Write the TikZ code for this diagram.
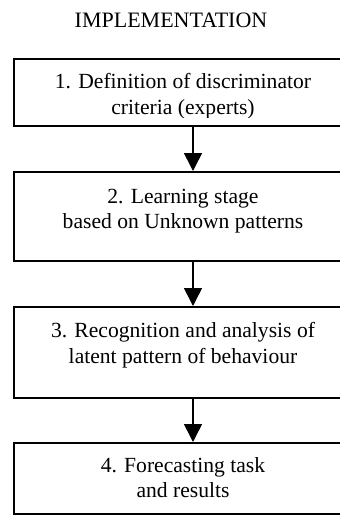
\documentclass[tikz,border=0pt]{standalone}
\usepackage{fontspec}
\setmainfont{Liberation Serif}
\usetikzlibrary{arrows.meta}
\tikzset{
  box/.style={draw=black, line width=1.6pt, minimum width=420pt, anchor=north west, inner sep=0pt, fill=white},
  txt/.style={anchor=base, inner sep=0pt, font=\rmfamily\fontsize{21.6}{25}\selectfont},
  ttl/.style={anchor=base, inner sep=0pt, font=\rmfamily\fontsize{22}{26}\selectfont},
  arr/.style={line width=1.6pt, -{Triangle[width=18pt,length=18pt]}}
}
\begin{document}
\begin{tikzpicture}[x=1pt,y=-1pt]
\useasboundingbox (0,0) rectangle (340,515);
\clip (0,0) rectangle (340,515);
\node[ttl] (title) at (171,27) {IMPLEMENTATION};
\node[box, minimum height=67pt] (b1) at (13,58) {};
\node[box, minimum height=89pt] (b2) at (13,171) {};
\node[box, minimum height=91pt] (b3) at (13,306) {};
\node[box, minimum height=71pt] (b4) at (13,442) {};
\coordinate (ax) at (193,0);
\begin{scope}
\clip (13,58) rectangle (340,117.5);
\node[txt] (t1a) at (183,88) {1. Definition of discriminator};
\node[txt] (t1b) at (183,114) {criteria (experts)};
\end{scope}
\node[txt] (t2a) at (183,203) {2. Learning stage};
\node[txt] (t2b) at (183,228) {based on Unknown patterns};
\node[txt] (t3a) at (183,337) {3. Recognition and analysis of};
\node[txt] (t3b) at (183,363) {latent pattern of behaviour};
\node[txt] (t4a) at (183,472) {4. Forecasting task};
\node[txt] (t4b) at (183,497) {and results};
\draw[arr] (b1.south -| ax) -- (b2.north -| ax);
\draw[arr] (b2.south -| ax) -- (b3.north -| ax);
\draw[arr] (b3.south -| ax) -- (b4.north -| ax);
\end{tikzpicture}
\end{document}
